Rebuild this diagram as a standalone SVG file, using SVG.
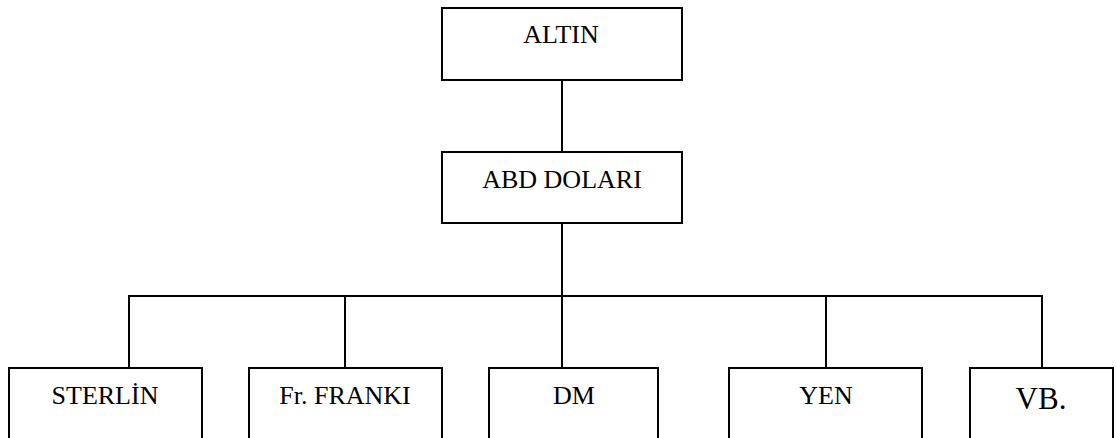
<svg xmlns="http://www.w3.org/2000/svg" width="1117" height="438" viewBox="0 0 1117 438">
<style>
.box{fill:#fff;stroke:#000;stroke-width:2}
.conn{fill:none;stroke:#000;stroke-width:2}
.lbl{font-family:"Liberation Serif","Times New Roman",serif;font-size:26px;fill:#000;text-anchor:middle}
.big{font-size:31px}
</style>
<rect width="1117" height="438" fill="#fff"/>
<g id="connectors">
<line class="conn" x1="562" y1="80" x2="562" y2="152"/>
<line class="conn" x1="562" y1="223" x2="562" y2="368"/>
<polyline class="conn" points="129,368 129,296 1042,296 1042,368"/>
<line class="conn" x1="345" y1="296" x2="345" y2="368"/>
<line class="conn" x1="826" y1="296" x2="826" y2="368"/>
</g>
<g id="altin">
<rect class="box" x="442" y="8" width="240" height="72"/>
<text class="lbl" x="561" y="43">ALTIN</text>
</g>
<g id="abd-dolari">
<rect class="box" x="442" y="152" width="240" height="71"/>
<text class="lbl" x="562" y="188">ABD DOLARI</text>
</g>
<g id="sterlin">
<rect class="box" x="9" y="368" width="193" height="80"/>
<text class="lbl" x="105" y="404">STERLİN</text>
</g>
<g id="fr-franki">
<rect class="box" x="249" y="368" width="193" height="80"/>
<text class="lbl" x="345" y="404">Fr. FRANKI</text>
</g>
<g id="dm">
<rect class="box" x="489" y="368" width="169" height="80"/>
<text class="lbl" x="574" y="404">DM</text>
</g>
<g id="yen">
<rect class="box" x="729" y="368" width="193" height="80"/>
<text class="lbl" x="826" y="404">YEN</text>
</g>
<g id="vb">
<rect class="box" x="970" y="368" width="143" height="80"/>
<text class="lbl big" x="1041" y="409">VB.</text>
</g>
</svg>
